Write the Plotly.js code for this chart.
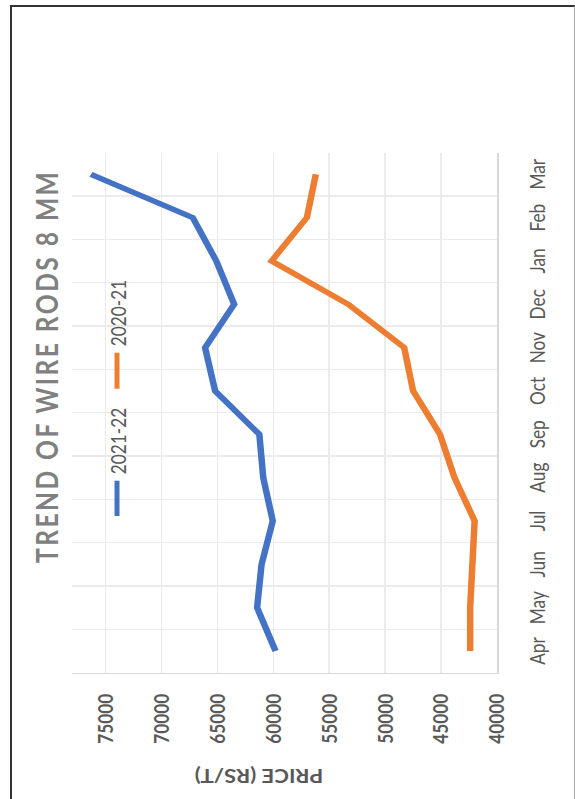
<!DOCTYPE html>
<html><head><meta charset="utf-8">
<script src="https://cdn.plot.ly/plotly-3.0.1.min.js"></script>
<style>
html,body{margin:0;padding:0;width:575px;height:799px;overflow:hidden;background:#fff;}
#chart{position:absolute;left:0;top:0;width:974px;height:575px;transform-origin:0 0;transform:translate(0px,799px) rotate(-90deg) scaleX(0.8203);}
#frame{position:absolute;left:10px;top:5px;width:565px;height:840px;border-top:2px solid #333;border-left:2px solid #333;border-right:1px solid #a6a6a6;box-sizing:border-box;pointer-events:none;}
</style></head>
<body>
<div id="chart"></div>
<div id="frame"></div>
<script>
// ---- data ----
const months = ['Apr','May','Jun','Jul','Aug','Sep','Oct','Nov','Dec','Jan','Feb','Mar'];
const seriesNames = ['2021-22','2020-21'];
const seriesColors = ['#4472C4','#ED7D31'];
const price2122 = [59800,61450,61050,60050,60900,61250,65200,66100,63500,65100,67200,76300];
const price2021 = [42400,42400,42200,42000,43800,45100,47500,48300,53300,60150,57000,56200];
const priceTicks = [40000,45000,50000,55000,60000,65000,70000,75000];
const chartTitle = 'TREND OF WIRE RODS 8 MM';
const priceTitle = 'PRICE (RS/T)';

// ---- geometry (chart drawn unrotated, then rotated by CSS) ----
const S = 799/974;
const W = 974, H = 575;
const M = {l:154, r:186, t:72, b:78};
const plotW = W - M.l - M.r;
const plotH = H - M.t - M.b;
function px(u){ return (u/S - M.l)/plotW; }
function py(v){ return (H - M.b - v)/plotH; }

const FONT = 'Lato, "Open Sans", sans-serif';
const traces = [
  {x: months, y: price2122, name: seriesNames[0], type:'scatter', mode:'lines',
   line:{color:seriesColors[0], width:6.5}},
  {x: months, y: price2021, name: seriesNames[1], type:'scatter', mode:'lines',
   line:{color:seriesColors[1], width:6.5}}
];

// legend (drawn as shapes + text so the swatch length matches)
const legendSpots = [{l0:283, l1:318.3, t:324}, {l0:410.3, l1:446.3, t:452.3}];
const legendShapes = legendSpots.map((p,i)=>({type:'line', xref:'paper', yref:'paper',
  x0:px(p.l0), x1:px(p.l1), y0:py(117), y1:py(117), line:{color:seriesColors[i], width:5}}));
const legendTexts = legendSpots.map((p,i)=>({text:seriesNames[i], xref:'paper', yref:'paper',
  x:px(p.t), y:py(117.5), xanchor:'left', yanchor:'middle', showarrow:false, borderpad:0,
  font:{family:FONT, size:21, color:'#595959'}}));

const layout = {
  width: W, height: H,
  margin: M,
  paper_bgcolor:'rgba(0,0,0,0)', plot_bgcolor:'rgba(0,0,0,0)',
  showlegend: false,
  xaxis: {type:'category', categoryorder:'array', categoryarray: months, range:[-0.5, 11.5],
          tickson:'boundaries', ticks:'', showgrid:true, gridcolor:'#ebebeb', gridwidth:1.5,
          showline:true, linecolor:'#d9d9d9', linewidth:1.5, zeroline:false,
          tickfont:{family:FONT, size:21, color:'#595959'}, ticklabelstandoff:21},
  yaxis: {range:[40000, 78000], tickvals: priceTicks, tickformat:'d', ticks:'',
          showgrid:true, gridcolor:'#ebebeb', gridwidth:1.5, zeroline:false,
          showline:true, linecolor:'#d9d9d9', linewidth:1.5,
          tickfont:{family:FONT, size:21, color:'#595959', weight:'bold'}, ticklabelstandoff:20},
  shapes: legendShapes,
  annotations: [
    {text: chartTitle, xref:'paper', yref:'paper', x: px(432.5), y: py(45.5),
     xanchor:'center', yanchor:'middle', showarrow:false,
     font:{family:FONT, size:30, color:'#808080', weight:'bold'}},
    {text: priceTitle, xref:'paper', yref:'paper', x: px(22.3), y: py(259), textangle:-90,
     xanchor:'center', yanchor:'middle', showarrow:false,
     font:{family:FONT, size:22, color:'#595959', weight:'bold'}}
  ].concat(legendTexts)
};
Plotly.newPlot('chart', traces, layout, {staticPlot:true, displayModeBar:false}).then(function(gd){
  gd.querySelectorAll('.annotation-text').forEach(function(t){
    if (t.textContent.indexOf('TREND') === 0) t.style.letterSpacing = '3px';
  });
});
</script>
</body></html>
